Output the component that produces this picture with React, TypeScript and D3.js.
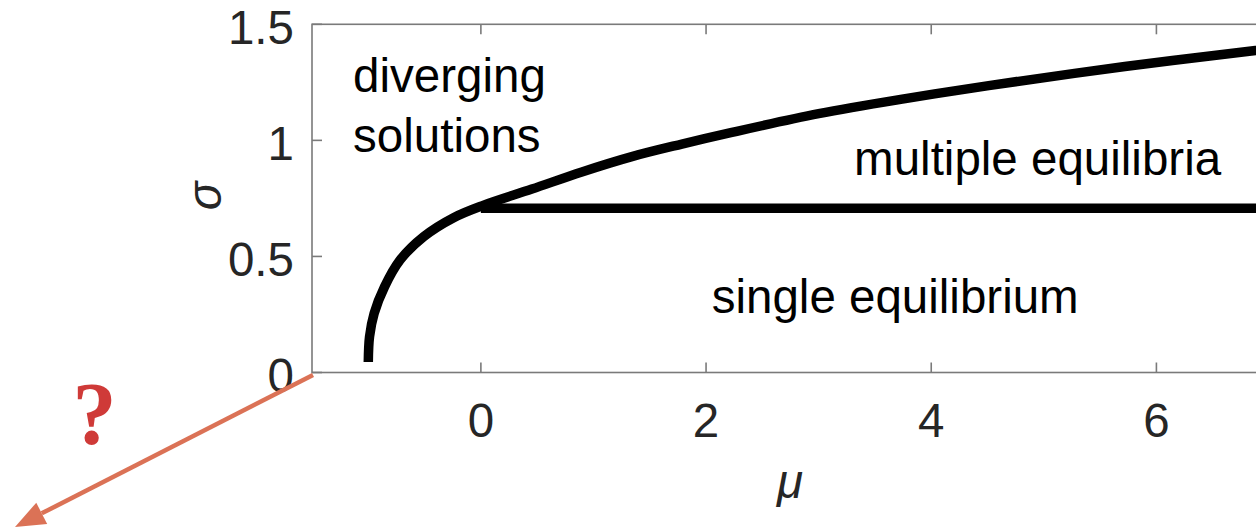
import React from "react";
import * as d3 from "d3";

// Boundary between diverging solutions and multiple equilibria
const boundaryMu = [-1.0, -0.989, -0.948, -0.855, -0.717, -0.509, -0.242, 0.02, 0.453, 0.897, 1.341, 1.785, 2.2, 3.0, 3.77, 4.51, 5.72, 6.88, 7.0];
const boundarySigma = [0.045, 0.154, 0.255, 0.37, 0.485, 0.585, 0.667, 0.72, 0.79, 0.864, 0.93, 0.984, 1.031, 1.115, 1.18, 1.236, 1.318, 1.387, 1.393];

// Boundary between single and multiple equilibria
const splitMu = [0, 7];
const splitSigma = [0.708, 0.708];

const xTicks = [0, 2, 4, 6];
const yTicks = [0, 0.5, 1, 1.5];
const yTickLabels = ["0", "0.5", "1", "1.5"];

const regionLabels = [
  { lines: ["diverging", "solutions"], mu: -1.135, sigma: 1.21 },
  { lines: ["multiple equilibria"], mu: 3.315, sigma: 0.85 },
  { lines: ["single equilibrium"], mu: 2.05, sigma: 0.255 },
];

const W = 1256;
const H = 529;
const FONT = "'Liberation Sans', Arial, Helvetica, sans-serif";

export default function App() {
  const x = d3.scaleLinear().domain([-1.5, 7]).range([312, 1269]);
  const y = d3.scaleLinear().domain([0, 1.5]).range([372.5, 24.3]);
  const [x0, x1] = x.range();
  const [yb, yt] = y.range();
  const tick = 10;

  const line = d3
    .line<[number, number]>()
    .x((d) => x(d[0]))
    .y((d) => y(d[1]))
    .curve(d3.curveCatmullRom.alpha(0.5));

  const boundary = boundaryMu.map((m, i) => [m, boundarySigma[i]] as [number, number]);
  const split = splitMu.map((m, i) => [m, splitSigma[i]] as [number, number]);

  // Arrow pointing away from the origin
  const ax0 = 313, ay0 = 375, ax1 = 15, ay1 = 527;
  const ang = Math.atan2(ay1 - ay0, ax1 - ax0);
  const headL = 30, headW = 12;
  const bx = ax1 - headL * Math.cos(ang);
  const by = ay1 - headL * Math.sin(ang);
  const px = -Math.sin(ang), py = Math.cos(ang);
  const head = `M${ax1},${ay1} L${bx + headW * px},${by + headW * py} L${bx - headW * px},${by - headW * py} Z`;

  const fs = 47.5;
  const lineGap = 60;

  return (
    <svg width={W} height={H} style={{ position: "absolute", left: 0, top: 0, background: "#fff" }}>
      <defs>
        <clipPath id="plot">
          <rect x={x0} y={yt} width={x1 - x0} height={yb - yt} />
        </clipPath>
      </defs>

      {/* axes box */}
      <rect x={x0} y={yt} width={x1 - x0} height={yb - yt} fill="none" stroke="#7a7a7a" strokeWidth={1.6} />
      {xTicks.map((t) => (
        <g key={`xt${t}`} stroke="#7a7a7a" strokeWidth={1.6}>
          <line x1={x(t)} x2={x(t)} y1={yb} y2={yb - tick} />
          <line x1={x(t)} x2={x(t)} y1={yt} y2={yt + tick} />
        </g>
      ))}
      {yTicks.map((t) => (
        <g key={`yt${t}`} stroke="#7a7a7a" strokeWidth={1.6}>
          <line x1={x0} x2={x0 + tick} y1={y(t)} y2={y(t)} />
          <line x1={x1} x2={x1 - tick} y1={y(t)} y2={y(t)} />
        </g>
      ))}

      {/* tick labels */}
      {xTicks.map((t) => (
        <text key={`xl${t}`} x={x(t)} y={437} textAnchor="middle" fontFamily={FONT} fontSize={fs} fill="#262626">
          {t}
        </text>
      ))}
      {yTicks.map((t, i) => (
        <text key={`yl${t}`} x={294} y={y(t) + 19.5} textAnchor="end" fontFamily={FONT} fontSize={fs} fill="#262626">
          {yTickLabels[i]}
        </text>
      ))}

      {/* axis titles */}
      <text x={790} y={498} textAnchor="middle" fontFamily={FONT} fontSize={fs} fontStyle="italic" fill="#262626">
        μ
      </text>
      <text
        transform="translate(221,196) rotate(-90)"
        textAnchor="middle"
        fontFamily={FONT}
        fontSize={fs}
        fontStyle="italic"
        fill="#262626"
      >
        σ
      </text>

      {/* regime boundaries */}
      <g clipPath="url(#plot)" fill="none" stroke="#000" strokeWidth={9.5}>
        <path d={line(boundary) ?? ""} />
        <path d={line(split) ?? ""} />
      </g>

      {/* region labels */}
      {regionLabels.map((r, i) => (
        <text key={i} x={x(r.mu)} y={y(r.sigma)} fontFamily={FONT} fontSize={fs} fill="#000">
          {r.lines.map((l, j) => (
            <tspan key={j} x={x(r.mu)} dy={j === 0 ? 0 : lineGap}>
              {l}
            </tspan>
          ))}
        </text>
      ))}

      {/* arrow and question mark */}
      <line x1={ax0} y1={ay0} x2={bx} y2={by} stroke="#db7256" strokeWidth={4.5} />
      <path d={head} fill="#db7256" />
      <text x={94.5} y={443} textAnchor="middle" fontFamily="'Liberation Serif', 'Times New Roman', serif" fontWeight="bold" fontSize={88} fill="#cf3a38">
        ?
      </text>
    </svg>
  );
}
